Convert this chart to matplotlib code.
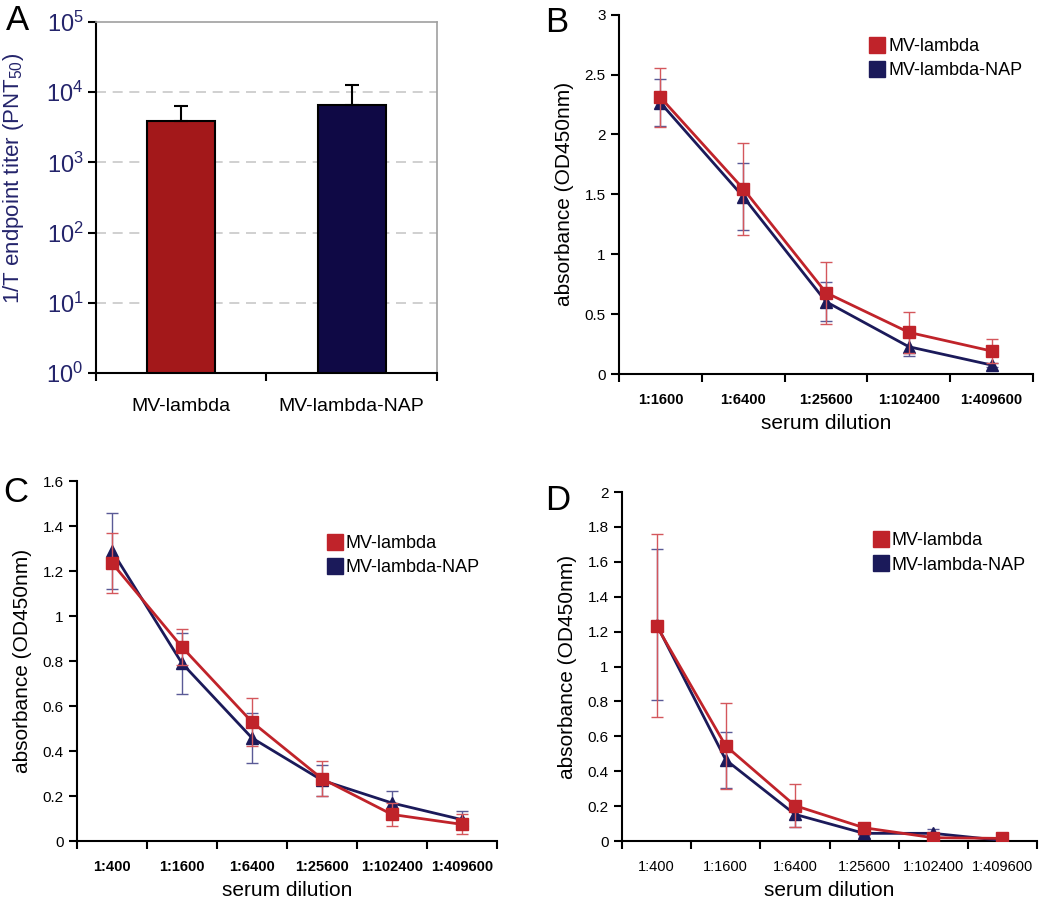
import matplotlib.pyplot as plt
from matplotlib.lines import Line2D
import numpy as np

plt.rcParams['font.family'] = ['Liberation Sans', 'DejaVu Sans']
plt.rcParams['mathtext.fontset'] = 'custom'
plt.rcParams['mathtext.rm'] = 'Liberation Sans'

# Panel A: neutralising titers
groups = ['MV-lambda', 'MV-lambda-NAP']
titer = [3900, 6600]
titer_err = [2400, 6000]

# Panel B: ELISA, 5 dilutions
dil_b = ['1:1600', '1:6400', '1:25600', '1:102400', '1:409600']
b_red = [2.31, 1.547, 0.679, 0.348, 0.192]
b_red_err = [0.245, 0.385, 0.26, 0.17, 0.10]
b_blue = [2.265, 1.48, 0.604, 0.228, 0.075]
b_blue_err = [0.195, 0.28, 0.165, 0.08, 0.02]

# Panel C
dil_cd = ['1:400', '1:1600', '1:6400', '1:25600', '1:102400', '1:409600']
c_red = [1.236, 0.862, 0.529, 0.277, 0.118, 0.074]
c_red_err = [0.135, 0.08, 0.105, 0.078, 0.05, 0.045]
c_blue = [1.29, 0.79, 0.458, 0.27, 0.169, 0.095]
c_blue_err = [0.17, 0.135, 0.113, 0.07, 0.053, 0.038]

# Panel D
d_red = [1.233, 0.545, 0.203, 0.076, 0.019, 0.015]
d_red_err = [0.525, 0.245, 0.125, 0.03, 0.02, 0.03]
d_blue = [1.24, 0.465, 0.153, 0.044, 0.044, 0.003]
d_blue_err = [0.432, 0.16, 0.07, 0.01, 0.025, 0.005]

RED = '#c0232a'
NAVY = '#1b1a5a'
RED_ERR = '#d4575c'
NAVY_ERR = '#5a5a96'
LABEL_NAVY = '#24246b'

fig = plt.figure(figsize=(10.5, 9.05), dpi=100)

# ---- A ----
axA = fig.add_axes([0.0914, 0.5878, 0.3248, 0.3879])
xa = np.array([0.5, 1.5])
axA.bar(xa, titer, width=0.4, color=['#a3181a', '#0f0945'], edgecolor='black',
        linewidth=1.5, bottom=1, zorder=3)
axA.errorbar(xa, titer, yerr=[[0, 0], titer_err], fmt='none', ecolor='black',
             elinewidth=1.5, capsize=5, capthick=1.5, zorder=4)
axA.set_yscale('log')
axA.set_ylim(1, 1e5)
axA.set_xlim(0, 2)
for v in [1e1, 1e2, 1e3, 1e4]:
    axA.axhline(v, color='#c8c8c8', lw=1.2, ls=(0, (6, 4)), zorder=1)
axA.set_yticks([1, 1e1, 1e2, 1e3, 1e4, 1e5])
axA.set_yticklabels([r'$\mathregular{10^{%d}}$' % i for i in range(6)])
axA.minorticks_off()
axA.tick_params(axis='y', labelsize=17, labelcolor=LABEL_NAVY, length=6,
                width=1.5, pad=3)
axA.set_xticks([0, 1, 2])
axA.set_xticklabels([])
axA.set_xticks(xa, minor=True)
axA.set_xticklabels(groups, minor=True)
axA.tick_params(axis='x', which='major', length=6, width=1.5)
axA.tick_params(axis='x', which='minor', length=0, labelsize=14, pad=18)
axA.set_ylabel(r'1/T endpoint titer (PNT$_{\mathregular{50}}$)', fontsize=16,
               color=LABEL_NAVY)
axA.yaxis.set_label_coords(-0.205, 0.555)
for s in ['left', 'bottom']:
    axA.spines[s].set_linewidth(1.5)
for s in ['top', 'right']:
    axA.spines[s].set_color('#a0a0a0')
    axA.spines[s].set_linewidth(1.2)


def dilution_panel(ax, labels, red, red_err, blue, blue_err, ymax, ystep,
                   yfmt, bold, legend_anchor):
    x = np.arange(len(labels))
    ax.errorbar(x, blue, yerr=blue_err, fmt='-^', color=NAVY, lw=2,
                markersize=8, ecolor=NAVY_ERR, elinewidth=1, capsize=4,
                capthick=1, zorder=3)
    ax.errorbar(x, red, yerr=red_err, fmt='-s', color=RED, lw=2,
                markersize=8.5, ecolor=RED_ERR, elinewidth=1, capsize=4,
                capthick=1, zorder=4)
    ax.set_xlim(-0.5, len(labels) - 0.5)
    ax.set_ylim(0, ymax)
    ticks = np.arange(0, ymax + ystep / 2, ystep)
    ax.set_yticks(ticks)
    ax.set_yticklabels([yfmt(t) for t in ticks])
    ax.tick_params(axis='y', labelsize=11, length=6, width=1.5)
    ax.set_xticks(np.arange(-0.5, len(labels), 1.0))
    ax.set_xticklabels([])
    ax.set_xticks(x, minor=True)
    ax.set_xticklabels(labels, minor=True,
                       fontweight='bold' if bold else 'normal')
    ax.tick_params(axis='x', which='major', length=6, width=1.5)
    ax.tick_params(axis='x', which='minor', length=0, labelsize=10.5, pad=14)
    ax.spines['top'].set_visible(False)
    ax.spines['right'].set_visible(False)
    ax.spines['left'].set_linewidth(1.5)
    ax.spines['bottom'].set_linewidth(1.5)
    ax.set_ylabel('absorbance (OD450nm)', fontsize=15, labelpad=8)
    ax.set_xlabel('serum dilution', fontsize=15, labelpad=5)
    handles = [Line2D([], [], marker='s', ls='none', color=RED, markersize=11),
               Line2D([], [], marker='s', ls='none', color=NAVY, markersize=11)]
    ax.legend(handles, ['MV-lambda', 'MV-lambda-NAP'], loc='upper left',
              bbox_to_anchor=legend_anchor, frameon=False, fontsize=13,
              handletextpad=0.1, handlelength=1.0, labelspacing=0.4,
              borderaxespad=0)


def fmt_half(t):
    return '0' if t == 0 else ('%g' % t)


def fmt_one(t):
    return '0' if t == 0 else ('%g' % round(t, 1))


axB = fig.add_axes([0.5895, 0.5867, 0.3943, 0.3971])
dilution_panel(axB, dil_b, b_red, b_red_err, b_blue, b_blue_err, 3, 0.5,
               fmt_half, True, (0.585, 0.955))

axC = fig.add_axes([0.0733, 0.0707, 0.4, 0.3978])
dilution_panel(axC, dil_cd, c_red, c_red_err, c_blue, c_blue_err, 1.6, 0.2,
               fmt_one, True, (0.575, 0.87))

axD = fig.add_axes([0.5924, 0.0707, 0.3952, 0.3856])
dilution_panel(axD, dil_cd, d_red, d_red_err, d_blue, d_blue_err, 2, 0.2,
               fmt_one, False, (0.585, 0.905))

fig.text(0.006, 0.967, 'A', fontsize=25, va='baseline')
fig.text(0.519, 0.965, 'B', fontsize=25, va='baseline')
fig.text(0.003, 0.4453, 'C', fontsize=25, va='baseline')
fig.text(0.519, 0.4365, 'D', fontsize=25, va='baseline')

fig.savefig('out.png', dpi=100)
